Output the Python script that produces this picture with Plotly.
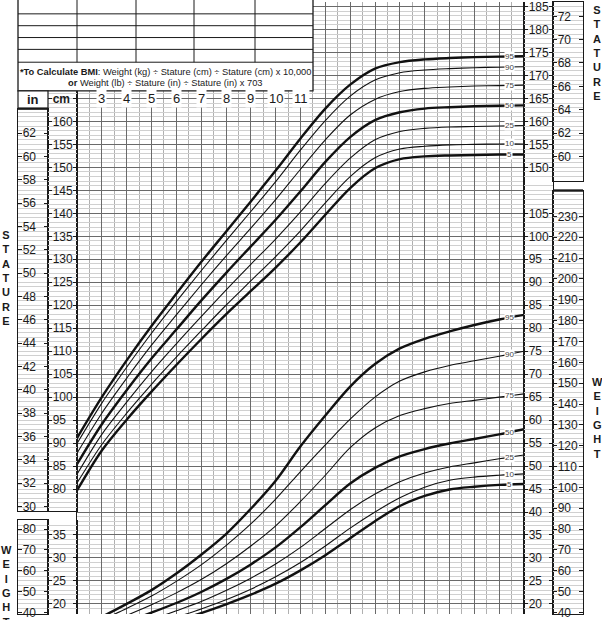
import numpy as np
import plotly.graph_objects as go

W, H = 602, 620

# ── data ─────────────────────────────────────────────────────────────

AGES = list(range(2, 21))
PERCENTILES = ["5", "10", "25", "50", "75", "90", "95"]

STATURE_P5 = [79.7, 88.4, 95.1, 101.2, 107.0, 112.6, 118.0, 123.1, 128.2, 133.7, 139.7, 145.5, 149.8, 151.8, 152.4, 152.6, 152.7, 152.8, 152.8]
STATURE_P10 = [81.3, 89.7, 96.5, 102.8, 108.7, 114.4, 120.0, 125.3, 130.6, 136.2, 142.3, 148.0, 152.1, 154.0, 154.6, 154.9, 155.0, 155.1, 155.1]
STATURE_P25 = [83.2, 91.9, 98.9, 105.5, 111.6, 117.5, 123.3, 128.9, 134.4, 140.3, 146.5, 152.0, 156.0, 157.8, 158.5, 158.8, 158.9, 159.0, 159.1]
STATURE_P50 = [85.4, 94.1, 101.5, 108.4, 114.7, 121.0, 127.0, 132.8, 138.6, 144.8, 151.2, 156.6, 160.3, 162.0, 162.8, 163.1, 163.3, 163.4, 163.5]
STATURE_P75 = [87.8, 96.5, 104.1, 111.3, 117.9, 124.4, 130.7, 136.8, 143.0, 149.6, 156.0, 161.4, 164.8, 166.5, 167.2, 167.5, 167.7, 167.8, 167.9]
STATURE_P90 = [89.9, 98.7, 106.5, 113.9, 120.8, 127.5, 134.0, 140.4, 146.9, 153.8, 160.2, 165.5, 169.0, 170.6, 171.2, 171.5, 171.7, 171.8, 171.9]
STATURE_P95 = [91.1, 100.0, 108.0, 115.5, 122.5, 129.4, 136.0, 142.6, 149.3, 156.3, 162.8, 168.0, 171.5, 172.9, 173.5, 173.8, 174.0, 174.1, 174.2]

WEIGHT_P5 = [10.2, 11.9, 13.3, 14.8, 16.3, 18.0, 19.9, 22.0, 24.4, 27.3, 30.6, 34.3, 38.0, 41.3, 43.5, 44.9, 45.5, 45.9, 46.1]
WEIGHT_P10 = [10.6, 12.4, 13.9, 15.4, 17.1, 18.9, 20.9, 23.2, 25.9, 29.0, 32.6, 36.5, 40.0, 43.1, 45.4, 46.9, 47.6, 48.0, 48.3]
WEIGHT_P25 = [11.3, 13.2, 14.9, 16.6, 18.5, 20.5, 22.9, 25.6, 28.7, 32.3, 36.4, 40.5, 43.9, 46.6, 48.5, 49.8, 50.7, 51.6, 52.4]
WEIGHT_P50 = [12.1, 14.2, 16.1, 18.1, 20.2, 22.6, 25.4, 28.6, 32.3, 36.7, 41.5, 46.2, 49.6, 52.1, 53.7, 54.9, 55.9, 56.9, 58.0]
WEIGHT_P75 = [13.0, 15.4, 17.5, 19.8, 22.4, 25.3, 28.7, 32.6, 37.0, 42.3, 48.0, 54.0, 58.3, 61.0, 62.5, 63.6, 64.3, 65.0, 65.7]
WEIGHT_P90 = [13.9, 16.5, 19.0, 21.7, 24.9, 28.5, 32.7, 37.4, 42.8, 48.8, 54.6, 60.2, 65.0, 68.5, 70.5, 71.9, 72.9, 73.9, 75.0]
WEIGHT_P95 = [14.8, 17.2, 20.0, 23.0, 26.6, 30.7, 35.2, 40.7, 46.8, 54.3, 61.0, 67.3, 72.2, 75.6, 77.7, 79.3, 80.7, 81.9, 82.9]

STATURE = [STATURE_P5, STATURE_P10, STATURE_P25, STATURE_P50, STATURE_P75, STATURE_P90, STATURE_P95]
WEIGHT = [WEIGHT_P5, WEIGHT_P10, WEIGHT_P25, WEIGHT_P50, WEIGHT_P75, WEIGHT_P90, WEIGHT_P95]

AGE_LABELS = list(range(3, 12))
LEFT_IN_TICKS = list(range(30, 63, 2))
LEFT_CM_TICKS = list(range(80, 166, 5))
LEFT_LB_TICKS = list(range(40, 81, 10))
LEFT_KG_TICKS = list(range(20, 36, 5))
RIGHT_CM_TICKS = list(range(150, 186, 5))
RIGHT_IN_TICKS = list(range(60, 73, 2))
RIGHT_KG_TICKS = list(range(20, 106, 5))
RIGHT_LB_TICKS = list(range(40, 231, 10))

BMI_NOTE = [
    "<b>*To Calculate BMI</b>: Weight (kg) ÷ Stature (cm) ÷ Stature (cm) x 10,000",
    "<b>or</b> Weight (lb) ÷ Stature (in) ÷ Stature (in) x 703",
]

# ── geometry of the scan ─────────────────────────────────────────────

X_AGE2, X_AGE20 = 77, 524
Y_160, PX_CM = 121, 4.655
KG_SHIFT = 35  # kg grid sits on the cm grid, 35 units lower
CONV = {
    "cm": lambda c: c,
    "in": lambda c: c / 2.54,
    "kg": lambda c: c - KG_SHIFT,
    "lb": lambda c: (c - KG_SHIFT) * 2.20462,
}

INK = "#1a1a1a"
DARK = "#6a6a6a"
MID = "#b0b0b0"
LIGHT = "#d0d0d0"
FONT = "Liberation Sans, Arial, sans-serif"


def cm_at(y):
    return 160 - (y - Y_160) / PX_CM


def px(x):
    return x / W


def py(y):
    return 1 - y / H


fig = go.Figure()
layout = {}

# ── main grid ────────────────────────────────────────────────────────

layout["xaxis"] = dict(
    domain=[px(X_AGE2), px(X_AGE20)], range=[2, 20], anchor="y",
    tick0=0, dtick=1, showgrid=True, gridcolor=DARK, gridwidth=1.4,
    minor=dict(dtick=0.5, showgrid=True, gridcolor=MID, gridwidth=1),
    showticklabels=False, ticks="", zeroline=False,
)
layout["yaxis"] = dict(
    domain=[0, 1], range=[cm_at(H), cm_at(0)], anchor="x",
    tick0=0, dtick=5, showgrid=True, gridcolor=DARK, gridwidth=1.4,
    minor=dict(dtick=1, showgrid=True, gridcolor=LIGHT, gridwidth=1),
    showticklabels=False, ticks="", zeroline=False,
    showline=True, mirror=True, linecolor=INK, linewidth=1.2,
)
layout["yaxis2"] = dict(
    overlaying="y", range=[cm_at(H) - KG_SHIFT, cm_at(0) - KG_SHIFT],
    visible=False, anchor="x",
)

annotations = []
for series, yref, axis in [(STATURE, "y", "y"), (WEIGHT, "y2", "y2")]:
    for name, vals in zip(PERCENTILES, series):
        bold = name in ("5", "50", "95")
        fig.add_trace(go.Scatter(
            x=AGES, y=vals, mode="lines", yaxis=axis, showlegend=False,
            line=dict(color="#111", width=2.4 if bold else 1.1, shape="spline", smoothing=0.9),
        ))
        annotations.append(dict(
            x=19.4, y=float(np.interp(19.4, AGES, vals)), xref="x", yref=yref,
            xanchor="center", yanchor="middle",
            text=name, showarrow=False, bgcolor="white", borderpad=0,
            font=dict(size=8, color="#444", family=FONT),
        ))

for a in AGE_LABELS:
    annotations.append(dict(
        x=a, y=165, xref="x", yref="y", text=str(a), showarrow=False,
        xanchor="center", yanchor="middle",
        bgcolor="white", borderpad=1, font=dict(size=13, color=INK, family=FONT),
    ))


# ── scale columns ────────────────────────────────────────────────────


def scale_column(n, x0, x1, y0, y1, unit, vals, text=None, box=False, size=12):
    y0, y1 = max(y0, 0), min(y1, H)
    conv = CONV[unit]
    lo, hi = cm_at(y1), cm_at(y0)
    grid = [conv(c) for c in range(int(np.ceil(lo)), int(np.floor(hi)) + 1)]
    fig.add_trace(go.Scatter(x=[], y=[], xaxis=f"x{n}", yaxis=f"y{n}", showlegend=False))
    layout[f"xaxis{n}"] = dict(
        domain=[px(x0), px(x1)], range=[0, 1], anchor=f"y{n}",
        showticklabels=False, ticks="", showgrid=False, zeroline=False,
        showline=box, mirror=True, linecolor=INK, linewidth=1.2,
    )
    layout[f"yaxis{n}"] = dict(
        domain=[py(y1), py(y0)], range=[conv(lo), conv(hi)], anchor=f"x{n}",
        tickmode="array", tickvals=vals,
        ticktext=text if text else [str(v) for v in vals],
        ticks="inside", ticklen=4, tickwidth=1, tickcolor=INK,
        ticklabelposition="inside", ticklabeloverflow="allow",
        tickfont=dict(size=size, color=INK, family=FONT),
        showline=True, mirror="ticks", linecolor=INK, linewidth=1.2,
        showgrid=False, zeroline=False,
        minor=dict(tickmode="array", tickvals=grid, showgrid=True,
                   gridcolor=LIGHT, gridwidth=1, ticks=""),
    )


scale_column(3, 18, 48, 108, 516, "in", LEFT_IN_TICKS, box=True)
scale_column(4, 48, 77, 90, 516, "cm", LEFT_CM_TICKS,
             text=[str(v) for v in LEFT_CM_TICKS[:-1]] + ["<b>cm</b>"], box=True)
scale_column(5, 18, 48, 525, 640, "lb", LEFT_LB_TICKS, box=True)
scale_column(6, 48, 77, 525, 640, "kg", LEFT_KG_TICKS)
scale_column(7, 524, 553, 0, 181, "cm", RIGHT_CM_TICKS)
scale_column(8, 553, 583, 0, 181, "in", RIGHT_IN_TICKS, box=True)
scale_column(9, 524, 553, 181, 640, "kg", RIGHT_KG_TICKS)
scale_column(10, 553, 583, 191, 640, "lb", RIGHT_LB_TICKS, box=True)

# ── record table, headers and side titles ────────────────────────────

shapes = [
    dict(type="rect", xref="paper", yref="paper", x0=px(18), x1=px(313), y0=py(90), y1=py(-3),
         fillcolor="white", line=dict(color=INK, width=1.3)),
    dict(type="rect", xref="paper", yref="paper", x0=px(18), x1=px(48), y0=py(108), y1=py(90),
         fillcolor="white", line=dict(color=INK, width=1.2)),
    dict(type="line", xref="paper", yref="paper", x0=px(18), x1=px(48), y0=py(108), y1=py(108),
         line=dict(color=INK, width=2.4)),
    dict(type="line", xref="paper", yref="paper", x0=px(553), x1=px(583), y0=py(191), y1=py(191),
         line=dict(color=INK, width=2.4)),
]
for y in (12, 24, 36, 48, 61):
    shapes.append(dict(type="line", xref="paper", yref="paper", x0=px(18), x1=px(313),
                       y0=py(y), y1=py(y), line=dict(color=INK, width=1)))
for x in (77, 136, 194, 255):
    shapes.append(dict(type="line", xref="paper", yref="paper", x0=px(x), x1=px(x),
                       y0=py(61), y1=py(-3), line=dict(color=INK, width=1)))

for i, line in enumerate(BMI_NOTE):
    annotations.append(dict(
        x=px(165.5), y=py(70.5 + i * 11.5), xref="paper", yref="paper", text=line,
        xanchor="center", yanchor="middle",
        showarrow=False, font=dict(size=9.3, color=INK, family=FONT),
    ))
annotations.append(dict(
    x=px(33), y=py(99), xref="paper", yref="paper", text="<b>in</b>",
    xanchor="center", yanchor="middle",
    showarrow=False, font=dict(size=13, color=INK, family=FONT),
))

for word, x, y_mid in [("STATURE", 6, 279.5), ("WEIGHT", 6, 592), ("STATURE", 597, 51.5), ("WEIGHT", 597, 421.5)]:
    annotations.append(dict(
        x=px(x), y=py(y_mid), xref="paper", yref="paper",
        xanchor="center", yanchor="middle",
        text="<br>".join(f"<b>{c}</b>" for c in word), showarrow=False,
        font=dict(size=11, color=INK, family=FONT),
    ))

fig.update_layout(
    width=W, height=H, margin=dict(l=0, r=0, t=0, b=0),
    paper_bgcolor="white", plot_bgcolor="white",
    shapes=shapes, annotations=annotations, **layout,
)
# the scan fills the window edge to edge, so drop the page's default body margin
fig.write_html(
    "out.html",
    config={"displayModeBar": False},
    post_script="document.body.style.margin = '0';",
)
